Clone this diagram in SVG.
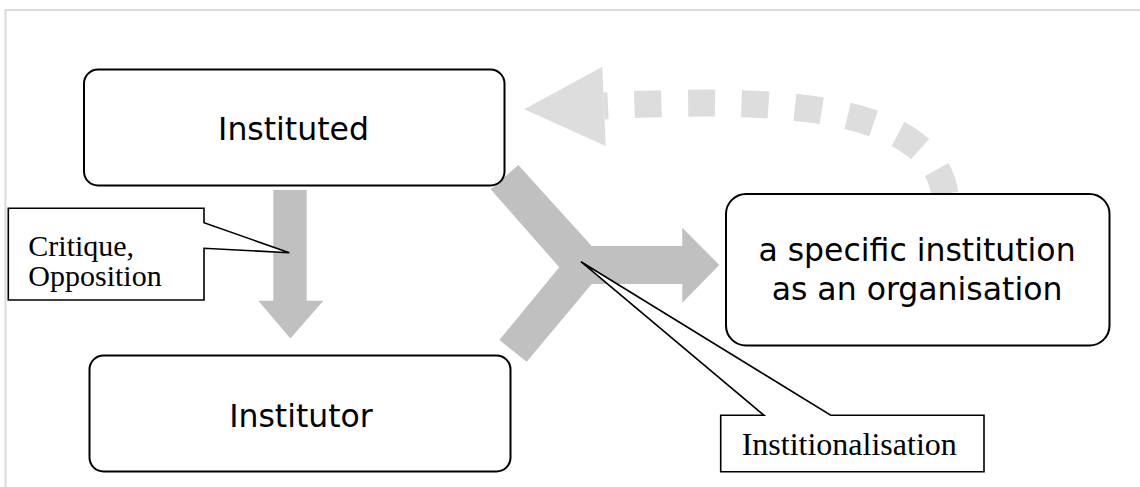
<svg xmlns="http://www.w3.org/2000/svg" width="1140" height="487" viewBox="0 0 1140 487">
<style>
.box{fill:#fff;stroke:#000;stroke-width:2}
.lbl{font-family:"DejaVu Sans",Verdana,sans-serif;font-size:31.5px;fill:#000;text-anchor:middle}
.call{fill:#fff;stroke:#000;stroke-width:1.6;stroke-linejoin:miter}
.ct{font-family:"Liberation Serif","Times New Roman",serif;font-size:32px;fill:#000}
.ct2{font-family:"Liberation Serif","Times New Roman",serif;font-size:30px;fill:#000}
.arr{fill:#c0c0c0}
.lt{fill:#dddddd}
</style>
<rect x="5.5" y="10" width="1150" height="490" fill="none" stroke="#dadada" stroke-width="2"/>
<g id="connectors">
  <path d="M604 106 C760 98 930 100 945 194" fill="none" stroke="#dddddd" stroke-width="27" stroke-dasharray="27 26.5" stroke-dashoffset="23"/>
  <polygon class="lt" points="524.3,109.3 602.3,66.7 605.7,146"/>
  <polygon class="arr" points="273.3,190 306.7,190 306.7,300.7 323.3,300.7 290.4,338.6 258.3,300.7 273.3,300.7"/>
  <polygon class="arr" points="518.3,165 591.7,246 682.3,246 682.3,227.7 719.3,265 682.3,302.7 682.3,284 591.7,284 526.7,361.7 499.3,340 559.3,267.3 490.7,189.3"/>
</g>
<g id="node-instituted">
  <rect class="box" x="84" y="69.5" width="420.5" height="116" rx="14"/>
  <text class="lbl" x="293.5" y="139.5">Instituted</text>
</g>
<g id="node-institutor">
  <rect class="box" x="89.5" y="355.5" width="421" height="116" rx="14"/>
  <text class="lbl" x="301" y="426.5">Institutor</text>
</g>
<g id="node-organisation">
  <rect class="box" x="726" y="194" width="383.5" height="151.5" rx="20"/>
  <text class="lbl" x="917" y="261">a specific institution</text>
  <text class="lbl" x="917" y="299.5">as an organisation</text>
</g>
<g id="callout-critique">
  <polygon class="call" points="8.3,208.3 204,208.3 204,222.7 289.3,252.7 204,248.3 204,300 8.3,300"/>
  <text class="ct2" x="28.3" y="256">Critique,</text>
  <text class="ct2" x="28.3" y="286">Opposition</text>
</g>
<g id="callout-institionalisation">
  <polygon class="call" points="720.7,415.3 764,415.3 581,261.7 830.7,415.3 984,415.3 984,471.7 720.7,471.7"/>
  <text class="ct" x="741.7" y="455">Institionalisation</text>
</g>
</svg>
